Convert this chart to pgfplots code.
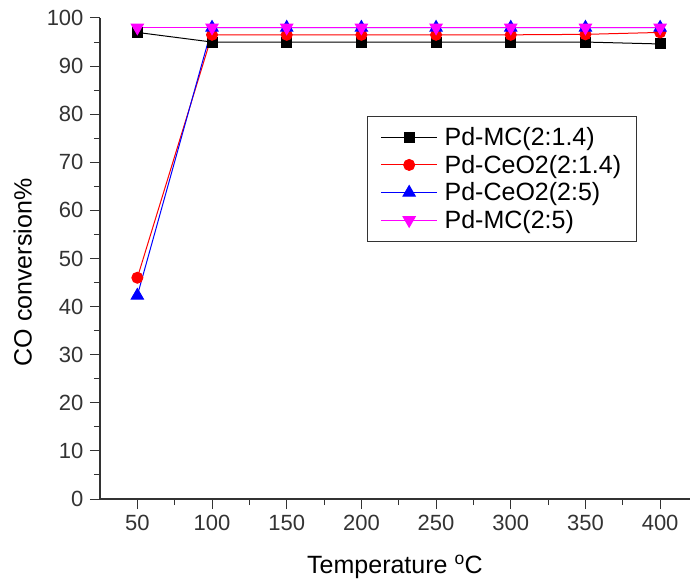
\documentclass[border=0pt]{standalone}
\usepackage{pgfplots}
\pgfplotsset{compat=1.18}
\usepackage{fontspec}
\setmainfont{Liberation Sans}
\definecolor{axgray}{HTML}{333333}
\definecolor{mymag}{HTML}{FF00FF}
\begin{document}
\begin{tikzpicture}
\begin{axis}[
  at={(0pt,0pt)}, anchor=origin,
  scale only axis, width=590pt, height=481pt,
  xmin=25, xmax=420, ymin=0, ymax=100,
  axis x line*=bottom, axis y line*=left,
  axis line style={axgray, line width=1.2pt},
  xtick={50,100,...,400}, minor x tick num=1,
  ytick={0,10,...,100}, minor y tick num=1,
  tick align=outside,
  major tick length=10pt, minor tick length=6pt,
  every tick/.style={axgray, line width=1pt},
  /pgf/number format/assume math mode=true,
  ticklabel style={font=\fontsize{22}{24}\selectfont, text=axgray},
  yticklabel style={xshift=-3pt},
  xticklabel style={yshift=-3pt},
  xlabel={Temperature \textsuperscript{o}C},
  ylabel={CO conversion\%},
  label style={font=\fontsize{25}{28}\selectfont},
  xlabel style={yshift=-17pt},
  ylabel style={yshift=8pt, xshift=-14pt},
  legend cell align=left,
  legend style={at={(0.453,0.796)}, anchor=north west, draw=axgray, line width=0.8pt,
    font=\fontsize{25}{30}\selectfont, inner xsep=13pt, inner ysep=9pt, row sep=4pt,
    /tikz/every odd column/.append style={column sep=5pt}},
  legend image code/.code={\draw[mark repeat=2,mark phase=2] plot coordinates {(0pt,0pt) (28pt,0pt) (56pt,0pt)};},
]
\addplot[black, line width=1pt, mark=square*, mark size=5pt, mark options={solid, fill=black}]
  coordinates {(50,97) (100,95) (150,95) (200,95) (250,95) (300,95) (350,95) (400,94.6)};
\addlegendentry{Pd-MC(2:1.4)}
\addplot[red, line width=1pt, mark=*, mark size=5.5pt, mark options={solid, fill=red}]
  coordinates {(50,46) (100,96.5) (150,96.5) (200,96.5) (250,96.5) (300,96.5) (350,96.6) (400,97)};
\addlegendentry{Pd-CeO2(2:1.4)}
\addplot[blue, line width=1pt, mark=triangle*, mark size=7pt, mark options={solid, fill=blue}]
  coordinates {(50,42.3) (100,98) (150,98) (200,98) (250,98) (300,98) (350,98) (400,98)};
\addlegendentry{Pd-CeO2(2:5)}
\addplot[mymag, line width=1pt, mark=triangle*, mark size=7pt, mark options={solid, fill=mymag, rotate=180}]
  coordinates {(50,98) (100,98) (150,98) (200,98) (250,98) (300,98) (350,98) (400,98)};
\addlegendentry{Pd-MC(2:5)}
\end{axis}
\pgfresetboundingbox
\path (-100pt,-82pt) rectangle (591pt,499pt);
\end{tikzpicture}
\end{document}
